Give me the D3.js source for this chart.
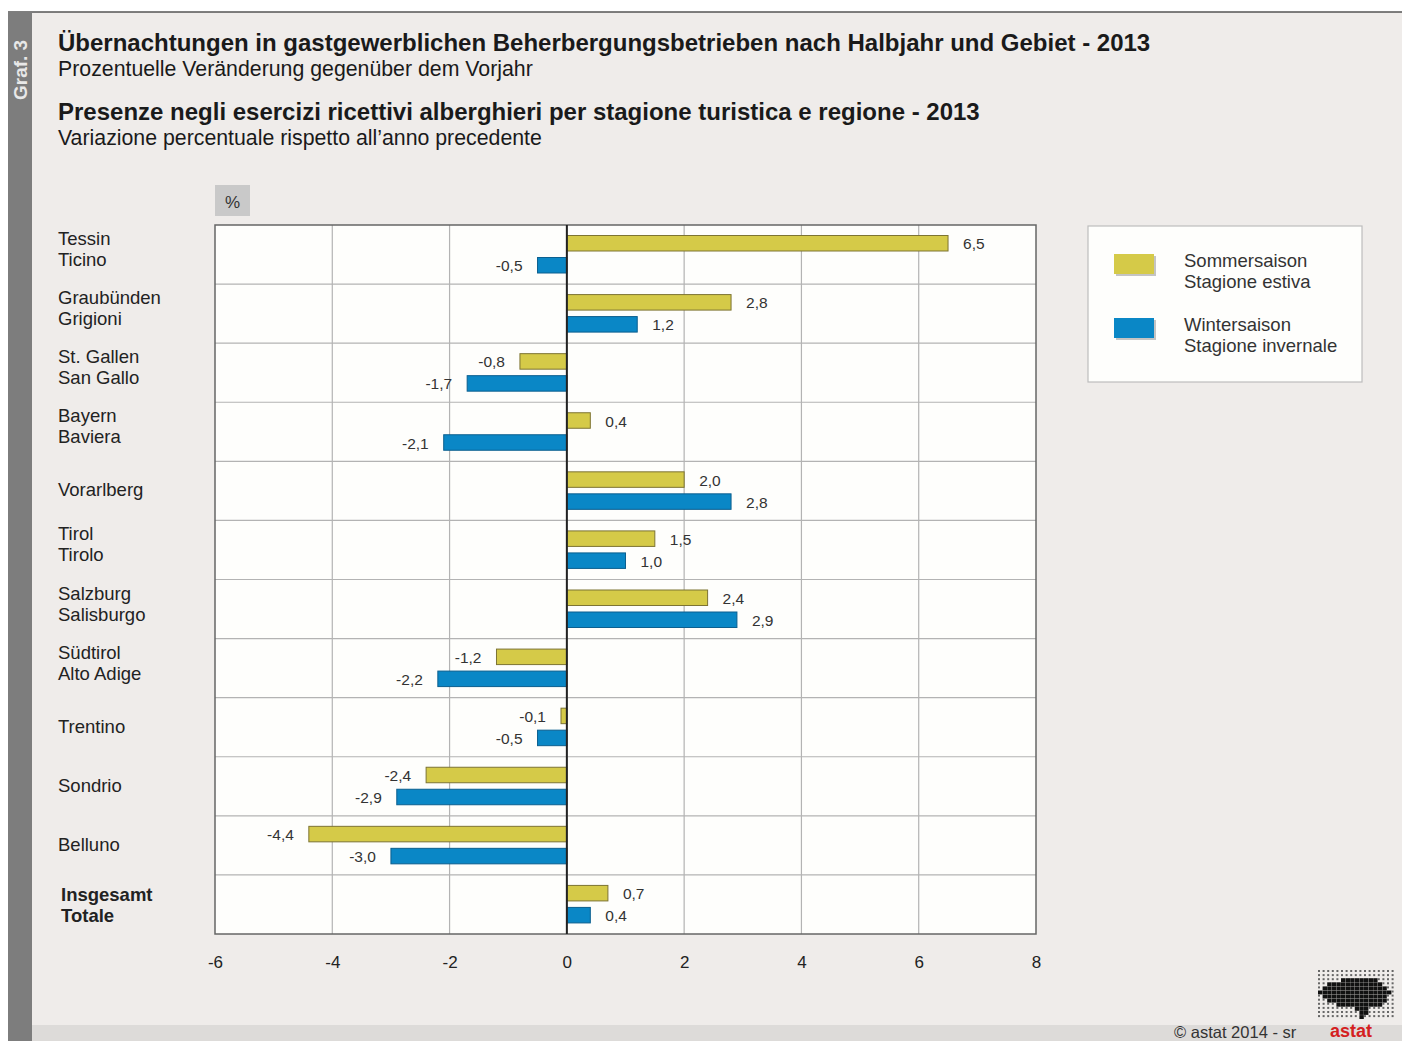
<!DOCTYPE html>
<html>
<head>
<meta charset="utf-8">
<script src="https://cdn.jsdelivr.net/npm/d3@7"></script>
<style>
  body { margin: 0; background: #fff; }
  svg { display: block; font-family: "Liberation Sans", Arial, sans-serif; }
</style>
</head>
<body>
<svg id="svg1" width="1402" height="1041"></svg>
<script>
// data
var regionsDe = ['Tessin', 'Graubünden', 'St. Gallen', 'Bayern', 'Vorarlberg', 'Tirol', 'Salzburg', 'Südtirol', 'Trentino', 'Sondrio', 'Belluno', 'Insgesamt'];
var regionsIt = ['Ticino', 'Grigioni', 'San Gallo', 'Baviera', '', 'Tirolo', 'Salisburgo', 'Alto Adige', '', '', '', 'Totale'];
var summer = [6.5, 2.8, -0.8, 0.4, 2.0, 1.5, 2.4, -1.2, -0.1, -2.4, -4.4, 0.7];
var winter = [-0.5, 1.2, -1.7, -2.1, 2.8, 1.0, 2.9, -2.2, -0.5, -2.9, -3.0, 0.4];
var xTicks = [-6, -4, -2, 0, 2, 4, 6, 8];
var legendLabels = [['Sommersaison', 'Stagione estiva'], ['Wintersaison', 'Stagione invernale']];

var colSummer = '#d5ca48', strokeSummer = '#7d7433';
var colWinter = '#0a87c6', strokeWinter = '#0b5f8f';

var svg = d3.select('svg');

// background and frame
svg.append('rect').attr('x', 0).attr('y', 0).attr('width', 1402).attr('height', 1041).attr('fill', '#ffffff');
svg.append('rect').attr('x', 8).attr('y', 12).attr('width', 1394).attr('height', 1029).attr('fill', '#efecea');
svg.append('rect').attr('x', 32).attr('y', 1025).attr('width', 1370).attr('height', 16).attr('fill', '#dddbd9');
svg.append('line').attr('x1', 8).attr('x2', 1402).attr('y1', 12).attr('y2', 12).attr('stroke', '#555').attr('stroke-width', 1.5);
svg.append('rect').attr('x', 8).attr('y', 12).attr('width', 24).attr('height', 1029).attr('fill', '#7d7d7d');
svg.append('text')
    .attr('transform', 'translate(27,100) rotate(-90)')
    .attr('fill', '#e8e8e8').attr('font-size', 19).attr('font-weight', 'bold')
    .text('Graf. 3');

// titles
var titles = [
    {t: 'Übernachtungen in gastgewerblichen Beherbergungsbetrieben nach Halbjahr und Gebiet - 2013', y: 51, s: 24, b: true},
    {t: 'Prozentuelle Veränderung gegenüber dem Vorjahr', y: 76, s: 21.3, b: false},
    {t: 'Presenze negli esercizi ricettivi alberghieri per stagione turistica e regione - 2013', y: 120, s: 24, b: true},
    {t: 'Variazione percentuale rispetto all’anno precedente', y: 145, s: 21.3, b: false}
];
svg.selectAll('.title').data(titles).enter().append('text')
    .attr('x', 58).attr('y', function(d) { return d.y; })
    .attr('font-size', function(d) { return d.s; })
    .attr('font-weight', function(d) { return d.b ? 'bold' : 'normal'; })
    .attr('fill', '#1a1a1a')
    .text(function(d) { return d.t; });

// scales
var x = d3.scaleLinear().domain([-6, 8]).range([215, 1036]);
var y = d3.scaleBand().domain(d3.range(regionsDe.length)).range([225, 934]);

// % box
svg.append('rect').attr('x', 215).attr('y', 185).attr('width', 35).attr('height', 31).attr('fill', '#c9c9c9');
svg.append('text').attr('x', 232.5).attr('y', 208).attr('text-anchor', 'middle').attr('font-size', 17).attr('fill', '#333').text('%');

// plot area
svg.append('rect').attr('x', 215).attr('y', 225).attr('width', 821).attr('height', 709)
    .attr('fill', '#fefefc');

// gridlines
svg.selectAll('.vgrid').data(xTicks.slice(1, -1)).enter().append('line')
    .attr('x1', function(d) { return x(d); }).attr('x2', function(d) { return x(d); })
    .attr('y1', 225).attr('y2', 934).attr('stroke', '#b3b3b3').attr('stroke-width', 1.2);
svg.selectAll('.hgrid').data(d3.range(1, regionsDe.length)).enter().append('line')
    .attr('x1', 215).attr('x2', 1036)
    .attr('y1', function(d) { return y(d); }).attr('y2', function(d) { return y(d); })
    .attr('stroke', '#b3b3b3').attr('stroke-width', 1.2);
svg.append('rect').attr('x', 215).attr('y', 225).attr('width', 821).attr('height', 709)
    .attr('fill', 'none').attr('stroke', '#666').attr('stroke-width', 1.5);

// x axis
var xAxis = svg.append('g').attr('transform', 'translate(0,934)')
    .call(d3.axisBottom(x).tickValues(xTicks).tickSize(0).tickPadding(22).tickFormat(d3.format('d')));
xAxis.select('.domain').remove();
xAxis.selectAll('text').attr('font-size', 17).attr('fill', '#222').attr('font-family', '"Liberation Sans", Arial, sans-serif')
    .text(function(d) { return d < 0 ? '-' + Math.abs(d) : d; });

// bars
var fmt = function(v) { return d3.format('.1f')(v).replace('−', '-').replace('.', ','); };
var series = [
    {vals: summer, off: 10.5, fill: colSummer, stroke: strokeSummer},
    {vals: winter, off: 32.5, fill: colWinter, stroke: strokeWinter}
];
var barH = 15.5;
series.forEach(function(s) {
    var g = svg.append('g');
    g.selectAll('rect').data(s.vals).enter().append('rect')
        .attr('x', function(d) { return x(Math.min(0, d)); })
        .attr('y', function(d, i) { return y(i) + s.off; })
        .attr('width', function(d) { return Math.abs(x(d) - x(0)); })
        .attr('height', barH)
        .attr('fill', s.fill).attr('stroke', s.stroke).attr('stroke-width', 1);
    g.selectAll('text').data(s.vals).enter().append('text')
        .attr('x', function(d) { return d >= 0 ? x(d) + 15 : x(d) - 15; })
        .attr('y', function(d, i) { return y(i) + s.off + barH / 2 + 6; })
        .attr('text-anchor', function(d) { return d >= 0 ? 'start' : 'end'; })
        .attr('font-size', 15.5).attr('fill', '#333')
        .text(function(d) { return fmt(d); });
});

// zero line
svg.append('line').attr('x1', x(0)).attr('x2', x(0)).attr('y1', 225).attr('y2', 934)
    .attr('stroke', '#222').attr('stroke-width', 2);

// category labels
var last = regionsDe.length - 1;
var cats = svg.selectAll('.cat').data(regionsDe).enter().append('text')
    .attr('font-size', 18.5)
    .attr('font-weight', function(d, i) { return i === last ? 'bold' : 'normal'; })
    .attr('fill', '#222');
cats.each(function(d, i) {
    var t = d3.select(this);
    var lx = i === last ? 61 : 58;
    var top = i === last ? 26 : 20;
    if (regionsIt[i]) {
        t.append('tspan').attr('x', lx).attr('y', y(i) + top).text(d);
        t.append('tspan').attr('x', lx).attr('y', y(i) + top + 21).text(regionsIt[i]);
    } else {
        t.attr('x', lx).attr('y', y(i) + 35).text(d);
    }
});

// legend
svg.append('rect').attr('x', 1088).attr('y', 226).attr('width', 274).attr('height', 156)
    .attr('fill', '#fefefc').attr('stroke', '#bdbdbd').attr('stroke-width', 1.2);
var leg = svg.selectAll('.leg').data(legendLabels).enter().append('g')
    .attr('transform', function(d, i) { return 'translate(1114,' + (254 + i * 64) + ')'; });
leg.append('rect').attr('x', 2).attr('y', 2).attr('width', 40).attr('height', 20).attr('fill', '#8a8a8a').attr('opacity', 0.5);
leg.append('rect').attr('width', 40).attr('height', 20)
    .attr('fill', function(d, i) { return i === 0 ? colSummer : colWinter; });
leg.append('text').attr('x', 70).attr('y', 13).attr('font-size', 18.5).attr('fill', '#333').text(function(d) { return d[0]; });
leg.append('text').attr('x', 70).attr('y', 34).attr('font-size', 18.5).attr('fill', '#333').text(function(d) { return d[1]; });

// footer
svg.append('text').attr('x', 1174).attr('y', 1038).attr('font-size', 16.5).attr('fill', '#333').text('©  astat 2014 - sr');
svg.append('text').attr('x', 1330).attr('y', 1037).attr('font-size', 18).attr('font-weight', 'bold').attr('fill', '#d42020').text('astat');

// logo: dotted grid with dark silhouette
var logoRows = [
    '.................',
    '.................',
    '.....########....',
    '..############...',
    '.##############..',
    '################.',
    '.##############..',
    '..#############..',
    '....##########...',
    '........###......',
    '.........##......',
    '.........#.......'
];
var logo = svg.append('g').attr('transform', 'translate(1318,970)');
logoRows.forEach(function(row, r) {
    row.split('').forEach(function(c, k) {
        logo.append('rect')
            .attr('x', k * 4.6).attr('y', r * 4.1)
            .attr('width', c === '#' ? 4.4 : 2).attr('height', c === '#' ? 3.9 : 2)
            .attr('fill', c === '#' ? '#111' : '#666');
    });
});
</script>
</body>
</html>
